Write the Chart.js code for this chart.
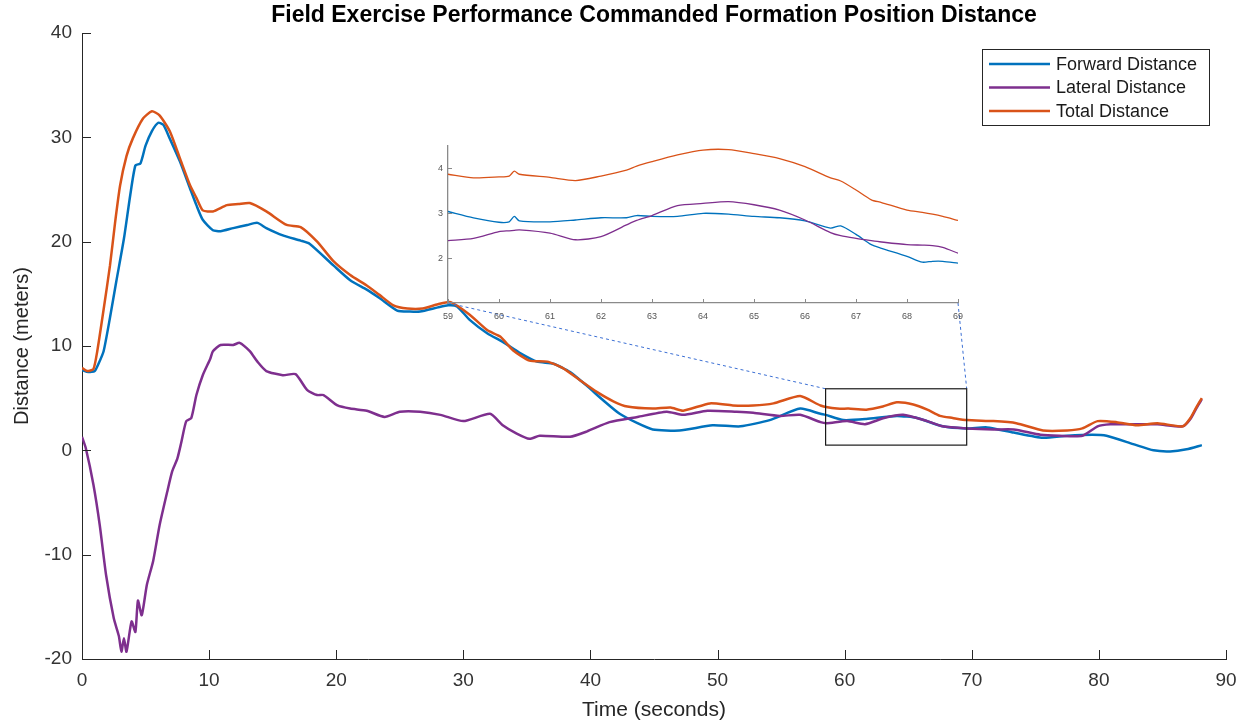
<!DOCTYPE html>
<html>
<head>
<meta charset="utf-8">
<script src="https://cdn.jsdelivr.net/npm/chart.js@4.4.1/dist/chart.umd.min.js"></script>
<style>
  body { margin: 0; background: #fff; }
  #wrap { position: relative; width: 1247px; height: 725px; background: #fff; }
  #mainChart { position: absolute; left: 0; top: 0; }
  #insetChart { position: absolute; left: 420px; top: 130px; }
</style>
</head>
<body>
<div id="wrap">
  <canvas id="mainChart" width="1247" height="725"></canvas>
  <canvas id="insetChart" width="560" height="200"></canvas>
</div>
<script>
// ---- data ----
const chartTitle = 'Field Exercise Performance Commanded Formation Position Distance';
const seriesLabels = ['Forward Distance', 'Lateral Distance', 'Total Distance'];

const xTicks = [0, 10, 20, 30, 40, 50, 60, 70, 80, 90];
const yTicks = [-20, -10, 0, 10, 20, 30, 40];

const forwardTime = [0, 0.5, 1.0, 1.3, 1.7, 2.2, 2.7, 3.3, 3.8, 4.2, 4.6, 5.0, 5.5, 6.0, 6.4, 6.9, 7.7, 8.5, 9.0, 9.5,
  10.3, 10.9, 11.9, 13.0, 13.8, 14.5, 15.8, 17.2, 17.9, 19.8, 21.1, 22.4, 23.4, 24.8, 25.8, 26.6, 28.0, 28.8, 29.5,
  30.5, 31.9, 33.1, 34.5, 35.8, 37.1, 38.4, 39.7, 41.0, 42.3, 43.7, 44.9, 47.0, 49.6, 51.8, 54.1, 56.5, 58.1, 58.5,
  59.9, 61.7, 64.1, 65.7, 67.7, 69.6, 71.2, 73.3, 75.6, 77.5, 79.5, 80.6, 82.7, 84.3, 85.6, 86.9, 88.1];
const forwardDist = [7.7, 7.5, 7.6, 8.3, 9.5, 12.7, 16.2, 20.3, 24.5, 27.3, 27.5, 29.2, 30.6, 31.4, 31.2, 29.9, 27.7, 25.1, 23.5, 22.1,
  21.1, 21.0, 21.3, 21.6, 21.8, 21.3, 20.6, 20.1, 19.8, 17.7, 16.3, 15.4, 14.6, 13.4, 13.3, 13.3, 13.7, 13.9, 13.8,
  12.5, 11.2, 10.4, 9.3, 8.5, 8.3, 7.5, 6.2, 4.8, 3.5, 2.6, 2.0, 1.9, 2.4, 2.3, 2.9, 4.0, 3.5, 3.4,
  2.9, 3.0, 3.3, 3.1, 2.3, 2.1, 2.2, 1.7, 1.2, 1.4, 1.5, 1.4, 0.6, 0.0, -0.1, 0.1, 0.5];

const lateralTime = [0, 0.3, 0.9, 1.4, 1.9, 2.5, 2.9, 3.1, 3.3, 3.5, 3.9, 4.2, 4.4, 4.7, 5.1, 5.6, 6.1, 6.7, 7.1, 7.5,
  7.8, 8.2, 8.6, 9.0, 9.5, 10.1, 10.3, 10.9, 11.9, 12.4, 13.2, 13.8, 14.5, 15.8, 16.8, 17.7, 18.5, 19.0, 20.1, 21.1,
  22.4, 23.8, 25.0, 26.6, 28.2, 30.0, 32.1, 33.1, 34.2, 35.2, 36.0, 38.4, 39.7, 41.5, 43.7, 46.0, 47.3, 49.2, 51.5,
  52.8, 54.9, 56.5, 58.1, 58.6, 60.2, 61.6, 63.1, 64.6, 66.5, 67.7, 69.6, 71.7, 73.3, 75.4, 76.9, 78.7, 79.9, 80.9,
  82.2, 84.6, 86.6, 87.2, 87.7, 88.1];
const lateralDist = [1.3, 0.2, -3.3, -7.2, -12.0, -16.1, -17.8, -19.3, -18.0, -19.3, -16.4, -17.4, -14.4, -15.8, -12.9, -10.6, -7.2, -4.0, -2.0, -0.8,
  0.7, 2.8, 3.1, 5.3, 7.2, 8.8, 9.5, 10.1, 10.1, 10.3, 9.5, 8.5, 7.6, 7.2, 7.3, 5.8, 5.3, 5.3, 4.3, 4.0,
  3.8, 3.2, 3.7, 3.7, 3.4, 2.8, 3.5, 2.4, 1.6, 1.1, 1.4, 1.3, 1.8, 2.7, 3.2, 3.7, 3.4, 3.8, 3.7,
  3.6, 3.3, 3.4, 2.7, 2.6, 2.8, 2.5, 3.1, 3.4, 2.8, 2.3, 2.1, 2.0, 2.0, 1.5, 1.4, 1.4, 2.3, 2.5,
  2.5, 2.5, 2.3, 3.0, 4.1, 4.9];

const totalTime = [0, 0.4, 0.9, 1.2, 1.7, 2.2, 2.6, 3.0, 3.5, 4.0, 4.8, 5.5, 6.1, 6.9, 7.7, 8.5, 9.0, 9.5, 10.3, 11.4,
  12.3, 13.2, 14.5, 16.1, 17.2, 18.5, 19.8, 21.1, 22.4, 23.4, 24.5, 25.6, 26.8, 28.0, 29.0, 30.5, 31.9, 32.9, 33.9,
  35.2, 36.6, 37.8, 39.2, 40.5, 41.8, 42.9, 44.9, 46.3, 47.3, 49.4, 51.2, 52.8, 54.4, 56.5, 58.1, 59.4, 60.3, 61.7,
  63.0, 64.1, 65.4, 66.5, 67.5, 68.5, 69.6, 71.7, 73.5, 75.6, 77.5, 78.7, 79.9, 81.4, 83.0, 84.6, 86.6, 87.2, 87.7, 88.1];
const totalDist = [7.9, 7.6, 7.8, 9.5, 13.5, 17.7, 21.8, 25.4, 28.2, 29.9, 31.8, 32.5, 32.1, 30.6, 28.0, 25.4, 24.2, 23.0, 22.9, 23.5,
  23.6, 23.7, 22.9, 21.6, 21.4, 20.0, 18.1, 16.8, 15.8, 14.9, 13.9, 13.6, 13.6, 14.0, 14.2, 13.0, 11.5, 10.9, 9.6,
  8.6, 8.5, 7.9, 6.7, 5.6, 4.7, 4.2, 4.0, 4.1, 3.8, 4.5, 4.3, 4.3, 4.5, 5.2, 4.3, 4.0, 4.0, 3.9,
  4.2, 4.6, 4.4, 3.9, 3.3, 3.1, 2.9, 2.8, 2.6, 1.9, 1.9, 2.1, 2.8, 2.7, 2.4, 2.6, 2.3, 3.1, 4.2, 5.0];

// zoomed window (59 - 69 s)
const insetXTicks = [59, 60, 61, 62, 63, 64, 65, 66, 67, 68, 69];
const insetYTicks = [2, 3, 4];
const zoomBoxX = [58.5, 69.6];
const zoomBoxY = [0.5, 5.9];

const insetTime = [59, 59.5, 60, 60.2, 60.3, 60.4, 61, 61.5, 62, 62.5, 62.7, 63, 63.5, 64, 64.5, 65, 65.5, 66, 66.5, 66.7,
  67, 67.3, 67.5, 68, 68.3, 68.5, 68.7, 69];
const insetForward = [3.04, 2.90, 2.80, 2.81, 2.93, 2.83, 2.81, 2.85, 2.90, 2.90, 2.95, 2.93, 2.93, 3.00, 2.98, 2.93, 2.90, 2.83, 2.67, 2.72,
  2.53, 2.30, 2.22, 2.04, 1.91, 1.93, 1.93, 1.89];
const insetLateral = [2.39, 2.44, 2.59, 2.61, 2.62, 2.63, 2.56, 2.41, 2.48, 2.74, 2.84, 2.95, 3.17, 3.22, 3.26, 3.19, 3.07, 2.85, 2.57, 2.50,
  2.44, 2.39, 2.36, 2.30, 2.29, 2.28, 2.24, 2.11];
const insetTotal = [3.87, 3.79, 3.81, 3.83, 3.94, 3.87, 3.80, 3.73, 3.83, 3.96, 4.05, 4.15, 4.30, 4.41, 4.42, 4.33, 4.22, 4.04, 3.79, 3.72,
  3.52, 3.30, 3.24, 3.07, 3.02, 2.98, 2.93, 2.84];

const colors = ['#0072BD', '#7E2F8E', '#D95319'];
const FONT = '"Liberation Sans", Arial, Helvetica, sans-serif';

function toPoints(xs, ys) {
  return xs.map((x, i) => ({ x: x, y: ys[i] }));
}

// MATLAB-style tick marks pointing into the plot
const innerTicks = {
  id: 'innerTicks',
  afterDraw(chart, args, opts) {
    const ctx = chart.ctx;
    const area = chart.chartArea;
    const xs = chart.scales.x, ys = chart.scales.y;
    ctx.save();
    ctx.strokeStyle = opts.color;
    ctx.lineWidth = opts.width;
    ctx.beginPath();
    xs.ticks.forEach(t => {
      const px = Math.round(xs.getPixelForValue(t.value)) + 0.5;
      ctx.moveTo(px, area.bottom);
      ctx.lineTo(px, area.bottom - opts.length);
    });
    ys.ticks.forEach(t => {
      const py = Math.round(ys.getPixelForValue(t.value)) + 0.5;
      ctx.moveTo(area.left, py);
      ctx.lineTo(area.left + opts.length, py);
    });
    ctx.stroke();
    ctx.restore();
  }
};

function fixedTicks(list) {
  return scale => { scale.ticks = list.map(v => ({ value: v })); };
}

// ---- inset chart ----
const insetChart = new Chart(document.getElementById('insetChart'), {
  type: 'line',
  data: {
    datasets: [
      { label: seriesLabels[0], data: toPoints(insetTime, insetForward), borderColor: colors[0], order: 3 },
      { label: seriesLabels[1], data: toPoints(insetTime, insetLateral), borderColor: colors[1], order: 2 },
      { label: seriesLabels[2], data: toPoints(insetTime, insetTotal), borderColor: colors[2], order: 1 }
    ]
  },
  options: {
    responsive: false,
    animation: false,
    devicePixelRatio: 1,
    layout: { padding: { left: 0, right: 22, top: 16, bottom: 0 } },
    elements: {
      point: { radius: 0 },
      line: { borderWidth: 1.3, tension: 0.25, fill: false }
    },
    plugins: {
      legend: { display: false },
      tooltip: { enabled: false },
      innerTicks: { color: '#8a8a8a', width: 1, length: 4 }
    },
    scales: {
      x: {
        type: 'linear', min: 59, max: 69,
        afterBuildTicks: fixedTicks(insetXTicks),
        afterFit: s => { s.height = 27; },
        grid: { display: true, drawOnChartArea: false, drawTicks: false },
        border: { display: true, color: '#8a8a8a', width: 1.3 },
        ticks: { font: { family: FONT, size: 9 }, color: '#555', padding: 8, maxRotation: 0, autoSkip: false }
      },
      y: {
        type: 'linear', min: 1, max: 4.5,
        afterBuildTicks: fixedTicks(insetYTicks),
        afterFit: s => { s.width = 28; },
        grid: { display: true, drawOnChartArea: false, drawTicks: false },
        border: { display: true, color: '#8a8a8a', width: 1.3 },
        ticks: { font: { family: FONT, size: 9 }, color: '#555', padding: 5 }
      }
    }
  },
  plugins: [innerTicks]
});

// zoom rectangle, connector lines, title and legend on the main chart
const overlay = {
  id: 'overlay',
  afterDatasetsDraw(chart) {
    const ctx = chart.ctx;
    const xs = chart.scales.x, ys = chart.scales.y;
    const x0 = xs.getPixelForValue(zoomBoxX[0]), x1 = xs.getPixelForValue(zoomBoxX[1]);
    const y0 = ys.getPixelForValue(zoomBoxY[1]), y1 = ys.getPixelForValue(zoomBoxY[0]);

    const mainBox = chart.canvas.getBoundingClientRect();
    const insetBox = insetChart.canvas.getBoundingClientRect();
    const ox = insetBox.left - mainBox.left, oy = insetBox.top - mainBox.top;
    const ia = insetChart.chartArea;

    ctx.save();
    ctx.strokeStyle = '#3b6fd4';
    ctx.lineWidth = 1;
    ctx.setLineDash([3, 3]);
    ctx.beginPath();
    ctx.moveTo(ox + ia.left, oy + ia.bottom);
    ctx.lineTo(x0, y0);
    ctx.moveTo(ox + ia.right, oy + ia.bottom);
    ctx.lineTo(x1, y0);
    ctx.stroke();
    ctx.setLineDash([]);
    ctx.strokeStyle = '#1a1a1a';
    ctx.lineWidth = 1.2;
    ctx.strokeRect(x0, y0, x1 - x0, y1 - y0);
    ctx.restore();
  },
  afterDraw(chart) {
    const ctx = chart.ctx;
    const area = chart.chartArea;
    ctx.save();
    // title centred over the plot area, like MATLAB
    ctx.font = 'bold 23px ' + FONT;
    ctx.fillStyle = '#000';
    ctx.textAlign = 'center';
    ctx.textBaseline = 'middle';
    ctx.fillText(chartTitle, (area.left + area.right) / 2, 16);

    const bx = area.right - 244, by = area.top + 16, bw = 227, bh = 76;
    ctx.fillStyle = '#fff';
    ctx.fillRect(bx, by, bw, bh);
    ctx.strokeStyle = '#262626';
    ctx.lineWidth = 1;
    ctx.strokeRect(bx + 0.5, by + 0.5, bw, bh);
    ctx.font = '18px ' + FONT;
    ctx.textAlign = 'left';
    chart.data.datasets.forEach((ds, i) => {
      const ry = by + 15 + i * 23.5;
      ctx.strokeStyle = ds.borderColor;
      ctx.lineWidth = 2.5;
      ctx.beginPath();
      ctx.moveTo(bx + 7, ry);
      ctx.lineTo(bx + 68, ry);
      ctx.stroke();
      ctx.fillStyle = '#1a1a1a';
      ctx.fillText(ds.label, bx + 74, ry + 1);
    });
    ctx.restore();
  }
};

// ---- main chart ----
const mainChart = new Chart(document.getElementById('mainChart'), {
  type: 'line',
  data: {
    datasets: [
      { label: seriesLabels[0], data: toPoints(forwardTime, forwardDist), borderColor: colors[0], order: 3 },
      { label: seriesLabels[1], data: toPoints(lateralTime, lateralDist), borderColor: colors[1], order: 2 },
      { label: seriesLabels[2], data: toPoints(totalTime, totalDist), borderColor: colors[2], order: 1 }
    ]
  },
  options: {
    responsive: false,
    animation: false,
    devicePixelRatio: 1,
    layout: { padding: { left: 0, right: 21, top: 33, bottom: 0 } },
    elements: {
      point: { radius: 0 },
      line: { borderWidth: 2.5, tension: 0.2, fill: false }
    },
    plugins: {
      legend: { display: false },
      tooltip: { enabled: false },
      title: { display: false },
      innerTicks: { color: '#262626', width: 1, length: 9 }
    },
    scales: {
      x: {
        type: 'linear', min: 0, max: 90,
        afterBuildTicks: fixedTicks(xTicks),
        afterFit: s => { s.height = 66; },
        grid: { display: true, drawOnChartArea: false, drawTicks: false },
        border: { display: true, color: '#262626', width: 1 },
        ticks: { font: { family: FONT, size: 19 }, color: '#333', padding: 10, maxRotation: 0, autoSkip: false },
        title: { display: true, text: 'Time (seconds)', font: { family: FONT, size: 21 }, color: '#262626', padding: { top: 0, bottom: 2 } }
      },
      y: {
        type: 'linear', min: -20, max: 40,
        afterBuildTicks: fixedTicks(yTicks),
        afterFit: s => { s.width = 82; },
        grid: { display: true, drawOnChartArea: false, drawTicks: false },
        border: { display: true, color: '#262626', width: 1 },
        ticks: { font: { family: FONT, size: 19 }, color: '#333', padding: 10 },
        title: { display: true, text: 'Distance (meters)', font: { family: FONT, size: 20 }, color: '#262626', padding: { top: 10, bottom: 0 } }
      }
    }
  },
  plugins: [innerTicks, overlay]
});
</script>
</body>
</html>
